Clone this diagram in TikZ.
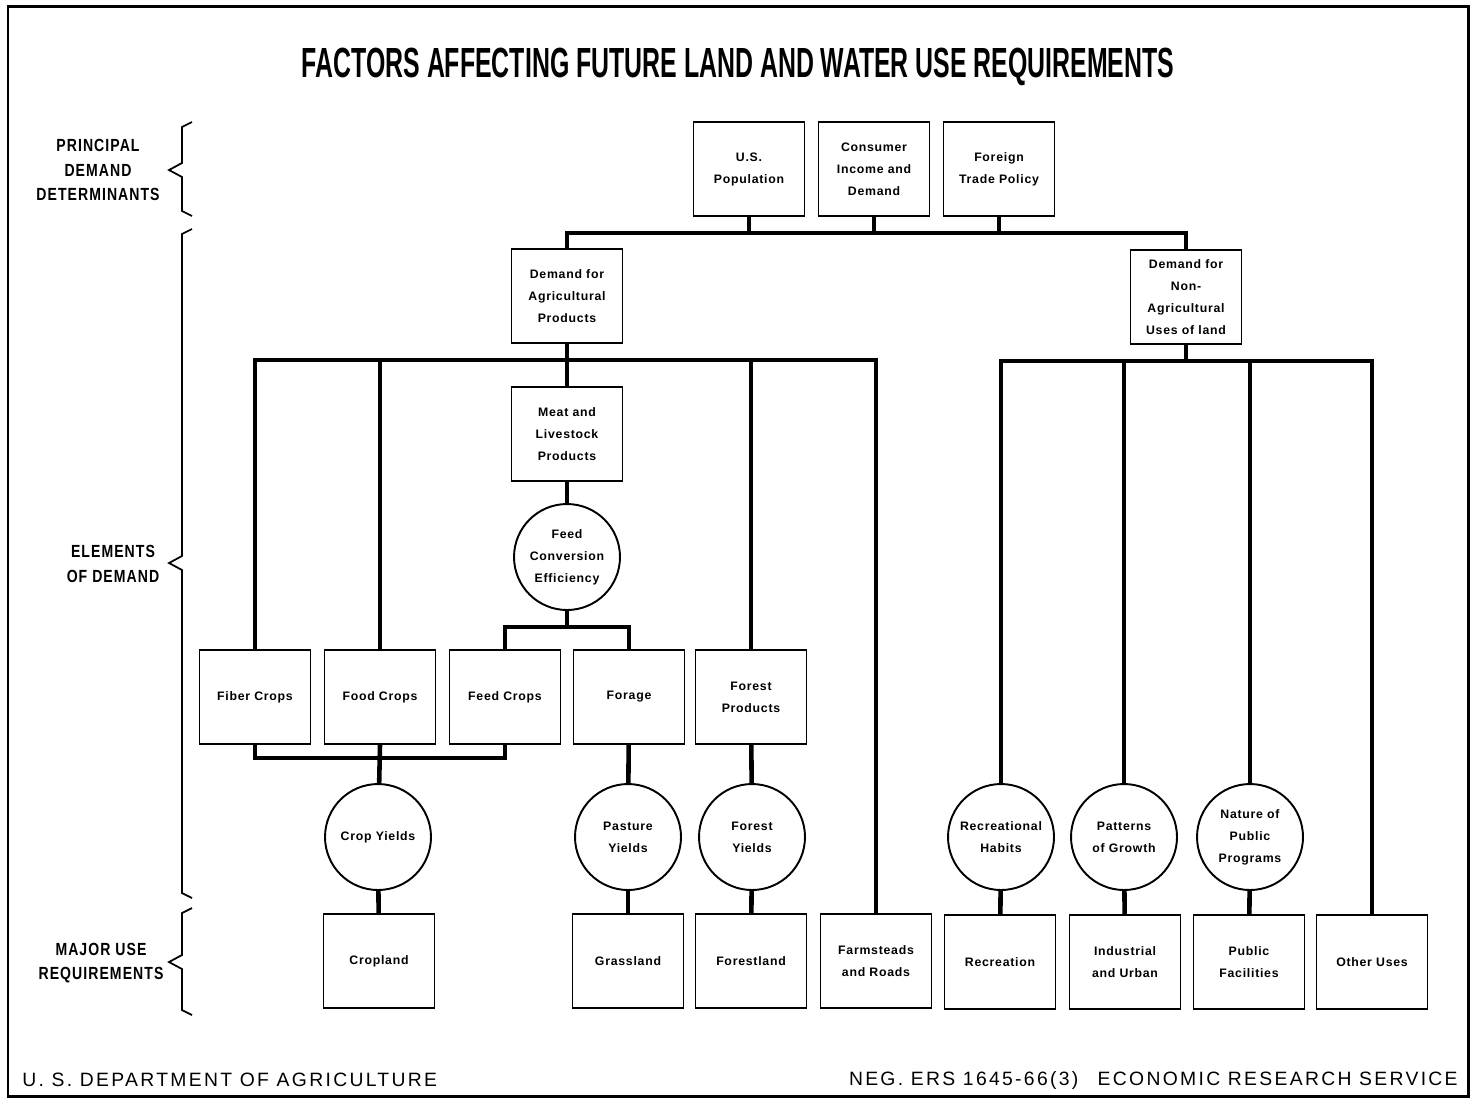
\documentclass[tikz,border=0pt]{standalone}
\usepackage{fontspec}
\setmainfont{Liberation Sans}
\newfontfamily\titlefont[FakeStretch=0.59]{Liberation Sans}
\newfontfamily\sidefont[FakeStretch=0.8,LetterSpace=6]{Liberation Sans}
\newfontfamily\boxfont[LetterSpace=6]{Liberation Sans}
\newfontfamily\footfont[LetterSpace=12]{Liberation Sans}
\tikzset{
  unitbox/.style={draw,line width=1.1pt,minimum width=2.22cm,minimum height=1.88cm,
    align=center,inner sep=2pt,font={\boxfont\bfseries\fontsize{7}{12.5}\selectfont}},
  factor/.style={draw,circle,line width=1.1pt,minimum size=2.12cm,inner sep=1pt,
    align=center,font={\boxfont\bfseries\fontsize{7}{12.5}\selectfont}},
  link/.style={line width=2.6pt},
  sidebrace/.style={line width=1pt},
  sidelabel/.style={align=center,font={\sidefont\bfseries\fontsize{10}{13.8}\selectfont}},
  footlabel/.style={inner sep=0pt,font={\footfont\fontsize{11}{13}\selectfont}}
}
\begin{document}
\begin{tikzpicture}[x=0.02cm,y=-0.02cm,line join=miter]
  \useasboundingbox (0,0) rectangle (1476,1100);
  \draw[line width=1.7pt] (8,6) rectangle (1468,1096);
  \node[font={\titlefont\bfseries\fontsize{24}{28}\selectfont}] (title) at (738,67)
    {FACTORS AFFECTING FUTURE LAND AND WATER USE REQUIREMENTS};

  % side labels and braces
  \node[sidelabel] (lprin) at (98,170) {PRINCIPAL\\DEMAND\\DETERMINANTS};
  \node[sidelabel] (lelem) at (113,564) {ELEMENTS\\OF DEMAND};
  \node[sidelabel] (lmajor) at (101,963) {MAJOR USE\\REQUIREMENTS};
  \foreach \t/\m/\b in {122/170/216, 229/563/898, 908/962/1015}
    \draw[sidebrace] (192,\t) -- (182,\t+5) -- (182,\m-7) -- (169,\m) -- (182,\m+7) -- (182,\b-5) -- (192,\b);

  % principal demand determinants
  \node[unitbox] (pop) at (749,169) {U.S.\\Population};
  \node[unitbox] (cons) at (874,169) {Consumer\\Income and\\Demand};
  \node[unitbox] (trade) at (999,169) {Foreign\\Trade Policy};

  % elements of demand
  \node[unitbox] (agr) at (567,296) {Demand for\\Agricultural\\Products};
  \node[unitbox] (nonag) at (1186,297) {Demand for\\Non-\\Agricultural\\Uses of land};
  \node[unitbox] (meat) at (567,434) {Meat and\\Livestock\\Products};
  \node[factor] (conv) at (567,557) {Feed\\Conversion\\Efficiency};
  \node[unitbox] (fiber) at (255,697) {Fiber Crops};
  \node[unitbox] (food) at (380,697) {Food Crops};
  \node[unitbox] (feed) at (505,697) {Feed Crops};
  \node[unitbox] (forage) at (629,697) {Forage};
  \node[unitbox] (forprod) at (751,697) {Forest\\Products};
  \node[factor] (cropyld) at (378,837) {Crop Yields};
  \node[factor] (pastyld) at (628,837) {Pasture\\Yields};
  \node[factor] (foryld) at (752,837) {Forest\\Yields};
  \node[factor] (rechab) at (1001,837) {Recreational\\Habits};
  \node[factor] (growth) at (1124,837) {Patterns\\of Growth};
  \node[factor] (natpub) at (1250,837) {Nature of\\Public\\Programs};

  % major use requirements
  \node[unitbox] (cropland) at (379,961) {Cropland};
  \node[unitbox] (grass) at (628,961) {Grassland};
  \node[unitbox] (forland) at (751,961) {Forestland};
  \node[unitbox] (farm) at (876,961) {Farmsteads\\and Roads};
  \node[unitbox] (recr) at (1000,962) {Recreation};
  \node[unitbox] (indus) at (1125,962) {Industrial\\and Urban};
  \node[unitbox] (pubfac) at (1249,962) {Public\\Facilities};
  \node[unitbox] (other) at (1372,962) {Other Uses};

  % bus levels
  \coordinate (topbus) at (0,233);
  \coordinate (agbus) at (0,360);
  \coordinate (nabus) at (0,361);
  \coordinate (feedbus) at (0,627);
  \coordinate (cropbus) at (0,758);

  % connectors
  \draw[link] (agr.north) |- (topbus -| nonag.north) -- (nonag.north);
  \foreach \n in {pop,cons,trade}
    \draw[link] (\n.south) -- (\n.south |- topbus);
  \draw[link] (fiber.north) |- (agbus -| farm.north) -- (farm.north);
  \draw[link] (agr.south) -- (meat.north);
  \foreach \n in {food,forprod}
    \draw[link] (\n.north) -- (\n.north |- agbus);
  \draw[link] (meat) -- (conv);
  \draw[link] (conv.south) -- (conv.south |- feedbus);
  \draw[link] (feed.north) |- (feedbus -| forage.north) -- (forage.north);
  \draw[link] (fiber.south) |- (cropbus -| feed.south) -- (feed.south);
  \draw[link] (food.south) -- (cropyld);
  \draw[link] (cropyld) -- (cropland);
  \draw[link] (forage) -- (pastyld);
  \draw[link] (pastyld) -- (grass);
  \draw[link] (forprod) -- (foryld);
  \draw[link] (foryld) -- (forland);
  \draw[link] (nonag.south) -- (nonag.south |- nabus);
  \draw[link] (rechab.north) |- (nabus -| other.north) -- (other.north);
  \foreach \n in {growth,natpub}
    \draw[link] (\n.north) -- (\n.north |- nabus);
  \draw[link] (rechab) -- (recr);
  \draw[link] (growth) -- (indus);
  \draw[link] (natpub) -- (pubfac);

  % footer
  \node[footlabel,anchor=west] (usda) at (22,1080) {U. S. DEPARTMENT OF AGRICULTURE};
  \node[footlabel,anchor=east] (ers) at (1458,1080)
    {NEG. ERS 1645-66(3)\quad ECONOMIC RESEARCH SERVICE};
\end{tikzpicture}
\end{document}
